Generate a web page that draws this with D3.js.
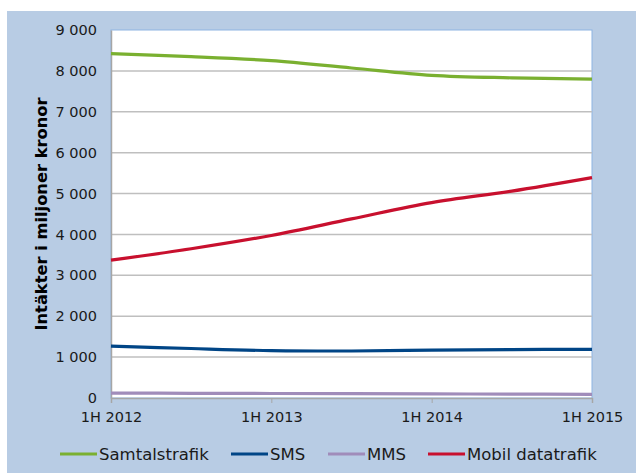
<!DOCTYPE html>
<html><head>
<meta charset="utf-8">
<script src="https://d3js.org/d3.v7.min.js"></script>
<style>
  body { margin: 0; background: #ffffff; }
  svg text { font-family: "DejaVu Sans", Verdana, sans-serif; fill: #1a1a1a; }
</style>
</head>
<body>
<svg id="chart" width="636" height="473"></svg>
<script>

// data (half-year periods)
let periods = ["1H 2012", "2H 2012", "1H 2013", "2H 2013", "1H 2014", "2H 2014", "1H 2015"];
let tickLabels = ["1H 2012", "1H 2013", "1H 2014", "1H 2015"];
let samtal = [8420, 8350, 8250, 8070, 7890, 7830, 7800];
let sms    = [1270, 1210, 1160, 1150, 1170, 1185, 1190];
let mms    = [120, 115, 110, 105, 100, 95, 90];
let mobil  = [3370, 3650, 3975, 4380, 4780, 5060, 5390];
let yTicks = [0, 1000, 2000, 3000, 4000, 5000, 6000, 7000, 8000, 9000];

let series = [
  {name: "Samtalstrafik", values: samtal, color: "#7ab030"},
  {name: "SMS", values: sms, color: "#004586"},
  {name: "MMS", values: mms, color: "#a08cba"},
  {name: "Mobil datatrafik", values: mobil, color: "#c8102e"}
];

let svg = d3.select("#chart");

// light blue chart background
svg.append("rect")
  .attr("x", 7).attr("y", 11)
  .attr("width", 629).attr("height", 462)
  .style("fill", "#b8cce4");

let plotL = 111, plotR = 592, plotT = 30, plotB = 398;

let x = d3.scalePoint().domain(periods).range([plotL, plotR]);
let y = d3.scaleLinear().domain([0, 9000]).range([plotB, plotT]);

// plot area
svg.append("rect")
  .attr("x", plotL).attr("y", plotT)
  .attr("width", plotR - plotL).attr("height", plotB - plotT)
  .style("fill", "#ffffff")
  .style("stroke", "#8db4e2")
  .style("stroke-width", 1);

// gridlines
svg.append("g").selectAll("line")
  .data(yTicks.filter(d => d > 0 && d < 9000))
  .join("line")
  .attr("x1", plotL).attr("x2", plotR)
  .attr("y1", d => y(d)).attr("y2", d => y(d))
  .style("stroke", "#bfbfbf")
  .style("stroke-width", 1.5);

// y axis
let fmt = d => d3.format(",")(d).replace(/,/g, " ");
let yAxis = svg.append("g")
  .attr("transform", "translate(" + plotL + ",0)")
  .call(d3.axisLeft(y).tickValues(yTicks).tickFormat(fmt).tickSize(0).tickPadding(14));
yAxis.select(".domain").style("stroke", "#a6a6a6").style("stroke-width", 1.5);
yAxis.selectAll("text")
  .style("font-size", "14.5px")
  .style("font-family", "DejaVu Sans, Verdana, sans-serif");

// x axis
let xAxis = svg.append("g")
  .attr("transform", "translate(0," + plotB + ")")
  .call(d3.axisBottom(x).tickValues(tickLabels).tickSize(5).tickPadding(9));
xAxis.select(".domain").style("stroke", "#a6a6a6").style("stroke-width", 1.5);
xAxis.selectAll("line").style("stroke", "#a6a6a6");
xAxis.selectAll("text").style("font-size", "14.5px");

// y axis title
svg.append("text")
  .attr("transform", "translate(47,214) rotate(-90)")
  .attr("text-anchor", "middle")
  .style("font-size", "16.3px")
  .style("font-weight", "bold")
  .style("fill", "#000")
  .text("Intäkter i miljoner kronor");

// lines
let line = d3.line()
  .x((d, i) => x(periods[i]))
  .y(d => y(d))
  .curve(d3.curveCatmullRom.alpha(0.5));

svg.append("g").selectAll("path")
  .data(series)
  .join("path")
  .attr("d", d => line(d.values))
  .style("fill", "none")
  .style("stroke", d => d.color)
  .style("stroke-width", 3.2);

// legend
let legendX = [60, 231, 328, 428];
let legend = svg.append("g").selectAll("g")
  .data(series)
  .join("g")
  .attr("transform", (d, i) => "translate(" + legendX[i] + ",454)");
legend.append("line")
  .attr("x1", 0).attr("x2", 37)
  .style("stroke", d => d.color)
  .style("stroke-width", 3.2);
legend.append("text")
  .attr("x", 39).attr("dy", "0.35em")
  .style("font-size", "16.5px")
  .text(d => d.name);

</script>
</body>
</html>
